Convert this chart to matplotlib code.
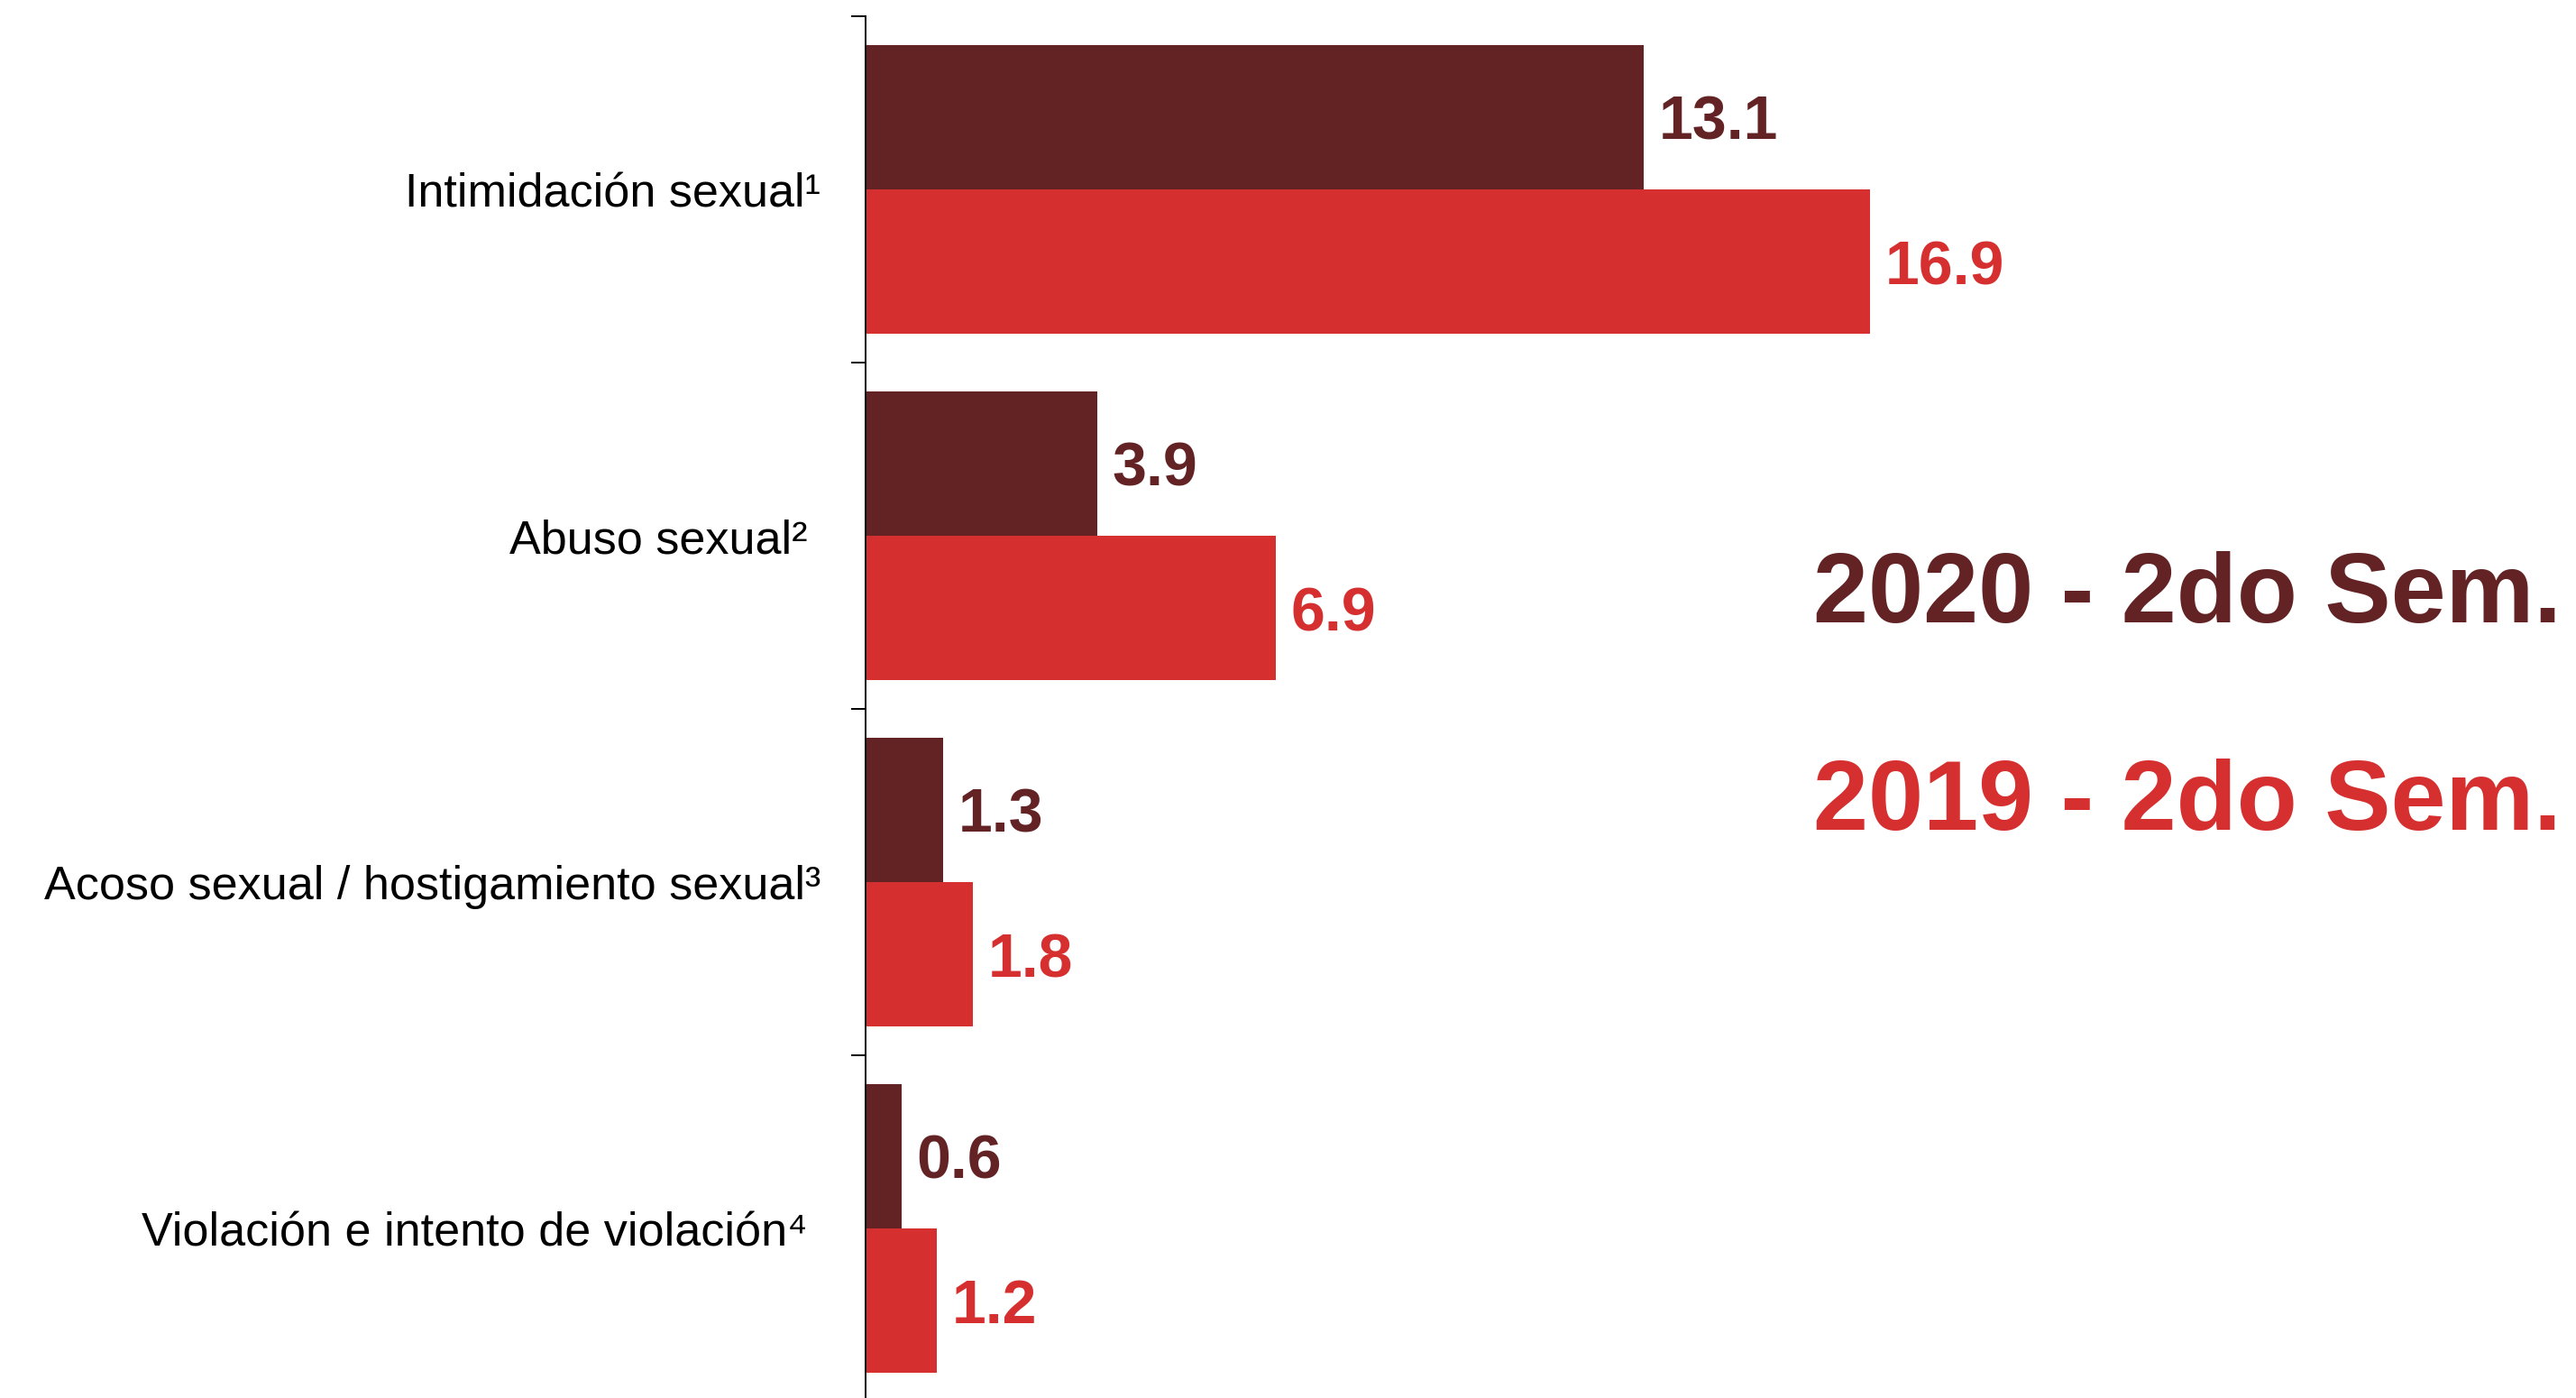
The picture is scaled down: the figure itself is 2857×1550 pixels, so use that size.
import matplotlib
matplotlib.use("Agg")
import matplotlib.pyplot as plt
import numpy as np

plt.rcParams['font.family'] = ['Liberation Sans', 'DejaVu Sans']

categories = ["Intimidación sexual¹", "Abuso sexual² ", "Acoso sexual / hostigamiento sexual³", "Violación e intento de violación⁴ "]
values_2020 = [13.1, 3.9, 1.3, 0.6]
values_2019 = [16.9, 6.9, 1.8, 1.2]
series_labels = ["2020 - 2do Sem.", "2019 - 2do Sem."]

dark = '#632325'
red = '#D62F2F'

W, H = 2857, 1550
fig = plt.figure(figsize=(W / 100, H / 100), dpi=100)
ax = fig.add_axes([960 / W, -4 / H, 1 - 960 / W, (1550 - 18 + 4) / H])

y = np.arange(len(categories))
bh = 0.4167
ax.barh(y - bh / 2, values_2020, height=bh, color=dark)
ax.barh(y + bh / 2, values_2019, height=bh, color=red)

for yi, v in zip(y, values_2020):
    ax.annotate(f"{v:.1f}", (v, yi - bh / 2), xytext=(12, 0), textcoords='offset points',
                va='center_baseline', ha='left', fontsize=49, fontweight='bold', color=dark)
for yi, v in zip(y, values_2019):
    ax.annotate(f"{v:.1f}", (v, yi + bh / 2), xytext=(12, 0), textcoords='offset points',
                va='center_baseline', ha='left', fontsize=49, fontweight='bold', color=red)

ax.set_ylim(len(categories) - 0.5, -0.5)
ax.set_xlim(0, 1897 / 65.9)

ax.set_yticks(y)
ax.set_yticklabels(categories, fontsize=37.5)
ax.set_yticks(np.arange(len(categories) + 1) - 0.5, minor=True)
ax.tick_params(axis='y', which='major', length=0, pad=36)
ax.tick_params(axis='y', which='minor', length=11.5, width=1.4, direction='out')
ax.set_xticks([])

for s in ['top', 'right', 'bottom']:
    ax.spines[s].set_visible(False)
ax.spines['left'].set_linewidth(1.4)

fig.text(2841 / W, 1 - 690 / H, series_labels[0], ha='right', va='baseline',
         fontsize=79, fontweight='bold', color=dark)
fig.text(2841 / W, 1 - 920 / H, series_labels[1], ha='right', va='baseline',
         fontsize=79, fontweight='bold', color=red)

fig.savefig("out.png", dpi=100)
